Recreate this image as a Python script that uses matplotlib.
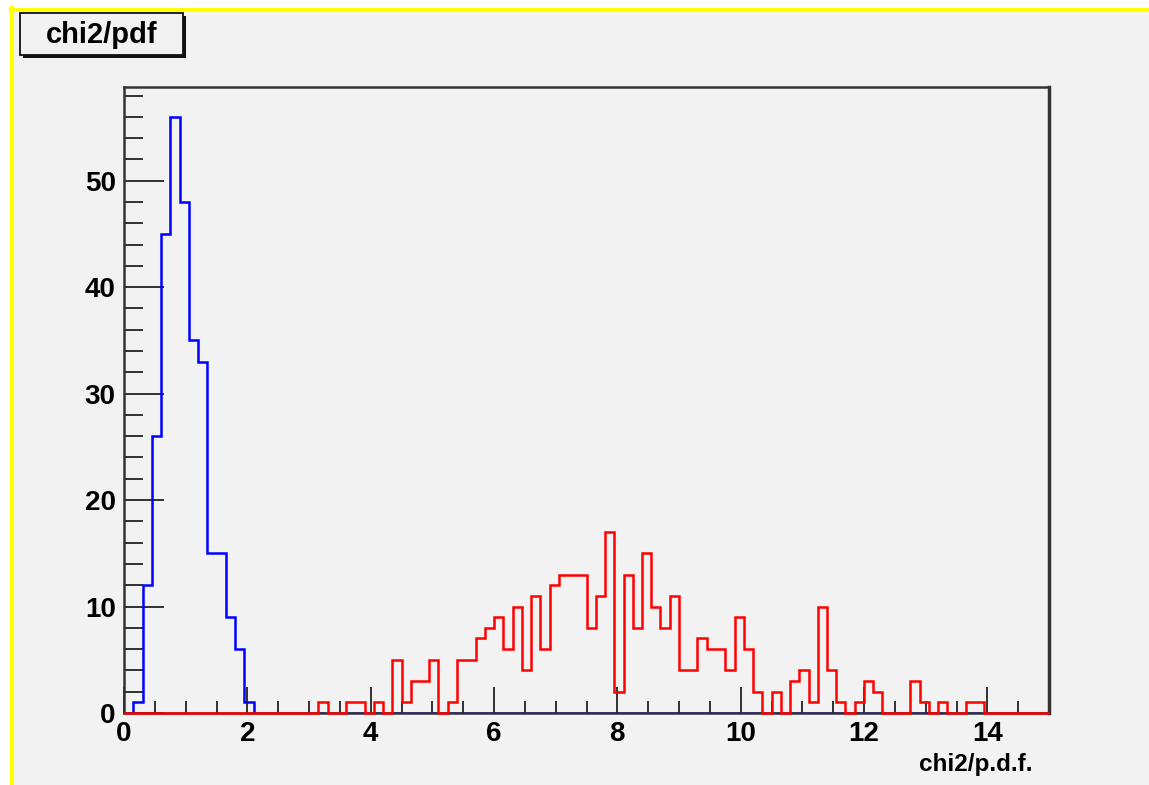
import matplotlib
matplotlib.use('Agg')
import matplotlib.pyplot as plt
from matplotlib.patches import Rectangle
from matplotlib.lines import Line2D
from matplotlib.ticker import MultipleLocator
import numpy as np

# histogram binning: 100 bins from 0 to 15
x_low = 0.0
x_high = 15.0
n_bins = 100

# blue histogram: non-empty bins start at bin 1
blue_first = [0, 1, 12, 26, 45, 56, 48, 35, 33, 15, 15, 9, 6, 1]
blue_counts = blue_first + [0] * (n_bins - len(blue_first))

# red histogram
red_counts = ([0] * 21 +
              [1, 0, 0, 1, 1, 0, 1, 0, 5, 1,          # bins 21-30
               3, 3, 5, 0, 1, 5, 5, 7, 8, 9,          # bins 31-40
               6, 10, 4, 11, 6, 12, 13, 13, 13, 8,    # bins 41-50
               11, 17, 2, 13, 8, 15, 10, 8, 11, 4,    # bins 51-60
               4, 7, 6, 6, 4, 9, 6, 2, 0, 2,          # bins 61-70
               0, 3, 4, 1, 10, 4, 1, 0, 1, 3,         # bins 71-80
               2, 0, 0, 0, 3, 1, 0, 1, 0, 0,          # bins 81-90
               1, 1])
red_counts = red_counts + [0] * (n_bins - len(red_counts))

x_ticks = [0, 2, 4, 6, 8, 10, 12, 14]
y_ticks = [0, 10, 20, 30, 40, 50]
title = 'chi2/pdf'
x_label = 'chi2/p.d.f.'

W, H = 1149, 785
fig = plt.figure(figsize=(W / 100, H / 100), dpi=100, facecolor='white')
plt.rcParams['font.family'] = ['Liberation Sans', 'DejaVu Sans']


def px(x, y):
    return x / W, 1 - y / H


# canvas background with yellow border (top and left)
fig.patches.append(Rectangle(px(11, H), 1, (H - 10) / H, transform=fig.transFigure,
                             facecolor='#f2f2f2', edgecolor='none', zorder=-10))
fig.lines.append(Line2D([11 / W, 1], [1 - 9.5 / H, 1 - 9.5 / H], transform=fig.transFigure,
                        color='#ffff00', lw=3, zorder=-5))
fig.lines.append(Line2D([11.5 / W, 11.5 / W], [0, 1 - 8 / H], transform=fig.transFigure,
                        color='#ffff00', lw=3, zorder=-5))

ax = fig.add_axes([124 / W, 1 - 713 / H, (1049 - 124) / W, (713 - 87) / H])
ax.set_facecolor('#f2f2f2')

edges = np.linspace(x_low, x_high, n_bins + 1)
ax.stairs(blue_counts, edges, color='#0000ff', lw=1.8, zorder=2)
ax.stairs(red_counts, edges, color='#ff0000', lw=1.8, zorder=4, clip_on=False)

ax.set_xlim(x_low, x_high)
ax.set_ylim(0, 58.8)
ax.set_xticks(x_ticks)
ax.set_yticks(y_ticks)
ax.xaxis.set_minor_locator(MultipleLocator(0.5))
ax.yaxis.set_minor_locator(MultipleLocator(2))
ax.tick_params(which='both', direction='in', top=False, right=False, width=1.3, color='#222222')
ax.tick_params(which='major', axis='y', length=29, labelsize=20, pad=6)
ax.tick_params(which='minor', axis='y', length=14)
ax.tick_params(which='major', axis='x', length=19, labelsize=20, pad=6)
ax.tick_params(which='minor', axis='x', length=9)
for lab in ax.get_xticklabels() + ax.get_yticklabels():
    lab.set_fontweight('bold')
for sp in ax.spines.values():
    sp.set_linewidth(1.8)
    sp.set_color('#333333')
ax.spines['right'].set_linewidth(2.5)

ax.set_xlabel(x_label, fontsize=17.5, fontweight='bold', ha='right', va='center')
ax.xaxis.set_label_coords((1033 - 124) / 925, -(765 - 713) / 626)

# title box with shadow
fig.patches.append(Rectangle(px(23, 58), 163 / W, 42 / H, transform=fig.transFigure,
                             facecolor='#111111', edgecolor='none', zorder=2))
fig.patches.append(Rectangle(px(20, 55), 163 / W, 42 / H, transform=fig.transFigure,
                             facecolor='#f2f2f2', edgecolor='#111111', lw=1.3, zorder=3))
fig.text(*px(101.5, 35), title, fontsize=21, fontweight='bold', ha='center', va='center', zorder=4)

plt.savefig('out.png', dpi=100, facecolor='white')
